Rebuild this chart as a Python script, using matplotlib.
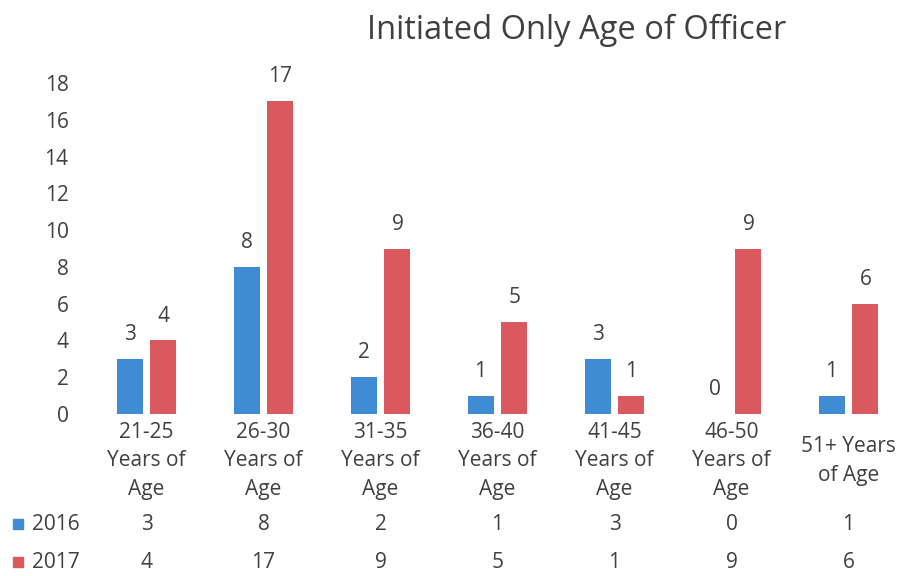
import matplotlib
matplotlib.use("Agg")
import matplotlib.pyplot as plt
import matplotlib.transforms as mtransforms
from matplotlib.patches import Rectangle

plt.rcParams['font.family'] = ['Open Sans', 'DejaVu Sans']

title = "Initiated Only Age of Officer"
categories = ["21-25\nYears of\nAge", "26-30\nYears of\nAge", "31-35\nYears of\nAge",
              "36-40\nYears of\nAge", "41-45\nYears of\nAge", "46-50\nYears of\nAge",
              "51+ Years\nof Age"]
series_names = ["2016", "2017"]
values_2016 = [3, 8, 2, 1, 3, 0, 1]
values_2017 = [4, 17, 9, 5, 1, 9, 6]
yticks = [0, 2, 4, 6, 8, 10, 12, 14, 16, 18]

colors = ["#3f8bd4", "#d9595f"]
text_color = "#404040"
fs = 15

W, H = 900, 576
fig = plt.figure(figsize=(9, 5.76), dpi=100)
left_px, right_px, top_px, bottom_px = 88, 907, 83, 414
ax = fig.add_axes([left_px / W, (H - bottom_px) / H, (right_px - left_px) / W, (bottom_px - top_px) / H])

n = len(categories)
x = list(range(n))
bw = 0.222
off = 0.145
series = [values_2016, values_2017]
for i, (vals, c) in enumerate(zip(series, colors)):
    xs = [xi + (off if i else -off) for xi in x]
    ax.bar(xs, vals, width=bw, color=c, zorder=2)
    for xb, v in zip(xs, vals):
        ax.annotate(str(v), (xb, v), xytext=(0, 10), textcoords="offset points",
                    ha="center", va="bottom", fontsize=fs, color=text_color)

ax.set_xlim(-0.5, n - 0.5)
ax.set_ylim(0, 18)
ax.set_yticks(yticks)
ax.set_yticklabels([str(t) for t in yticks])
ax.tick_params(axis='y', length=0, pad=14, labelsize=fs, labelcolor=text_color)
ax.set_xticks([])
for s in ax.spines.values():
    s.set_visible(False)

# category labels and data table rows
trans = mtransforms.blended_transform_factory(ax.transData, fig.transFigure)
for xi, lab in zip(x, categories):
    fig.text(xi, (H - 461) / H, lab, transform=trans, ha="center", va="center",
             fontsize=fs, color=text_color, linespacing=1.5)

row_y = [524, 562]
for vals, c, name, ry in zip(series, colors, series_names, row_y):
    yy = (H - ry) / H
    for xi, v in zip(x, vals):
        fig.text(xi, yy, str(v), transform=trans, ha="center", va="center",
                 fontsize=fs, color=text_color)
    fig.patches.append(Rectangle((13 / W, yy - 5 / H), 10 / W, 10 / H,
                                 transform=fig.transFigure, color=c, figure=fig))
    fig.text(32 / W, yy, name, ha="left", va="center", fontsize=fs, color=text_color)

fig.text(577 / W, (H - 30) / H, title, ha="center", va="center", fontsize=23.5, color=text_color)

fig.savefig("out.png", dpi=100, facecolor="white")
